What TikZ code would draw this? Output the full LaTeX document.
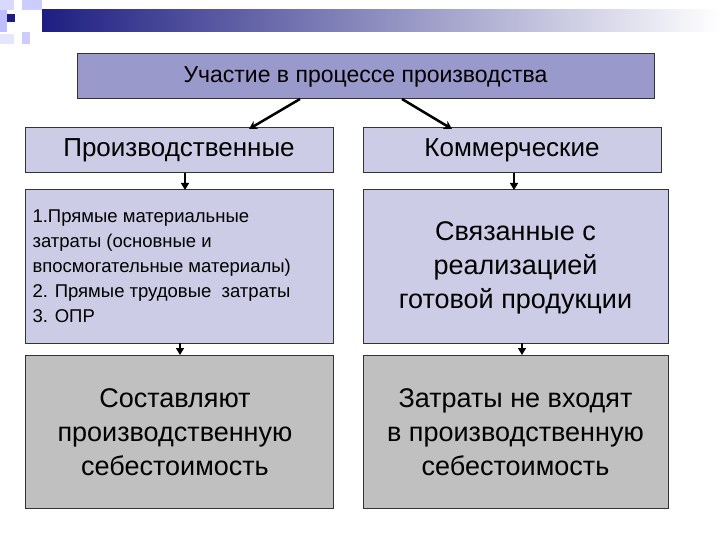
\documentclass[tikz,border=0pt]{standalone}
\usepackage{fontspec}
\usetikzlibrary{arrows.meta}
\setmainfont{Liberation Sans}
\begin{document}
\begin{tikzpicture}[x=1pt,y=-1pt,
  bx/.style={draw=black!80,line width=1pt},
  arr/.style={line width=2.5pt,-{Stealth[length=8pt,width=9pt]}},
  tri/.style={line width=1.5pt,-{Triangle[length=7pt,width=8pt]}}]
\useasboundingbox (0,0) rectangle (720,540);
\definecolor{topc}{RGB}{153,153,204}
\definecolor{midc}{RGB}{204,204,230}
\definecolor{grc}{RGB}{192,192,192}
\definecolor{dkb}{RGB}{30,30,130}
% decoration
\shade[left color=dkb,right color=white] (42,10) rectangle (720,32);
\fill[blue!15] (0,0) rectangle (14,10);
\fill[blue!20] (22,0) rectangle (42,10);
\fill[blue!25] (0,10) rectangle (7,32);
\fill[dkb] (7,14) rectangle (15,22);
\fill[blue!20] (22,32) rectangle (30,44);
\fill[blue!10] (0,34) rectangle (14,44);
% boxes
\path[bx,fill=topc] (77,54) rectangle (654,99);
\node[font=\fontsize{23}{26}\selectfont] (top) at (365.5,76.5) {Участие в процессе производства};
\path[bx,fill=midc] (25,128) rectangle (333,173);
\node[font=\fontsize{26}{30}\selectfont] (p) at (179,150.5) {Производственные};
\path[bx,fill=midc] (363,128) rectangle (661,173);
\node[font=\fontsize{26}{30}\selectfont] (k) at (512,150.5) {Коммерческие};
\path[bx,fill=midc] (25,190) rectangle (333,343);
\node[align=left,anchor=west,font=\fontsize{18.5}{25}\selectfont] (p3) at (29,266) {1.Прямые материальные\\затраты (основные и\\впосмогательные материалы)\\2. Прямые трудовые\ \ затраты\\3. ОПР};
\path[bx,fill=midc] (363,190) rectangle (668,343);
\node[align=center,font=\fontsize{27}{34}\selectfont] (k3) at (515.5,268) {Связанные с\\реализацией\\готовой продукции};
\path[bx,fill=grc] (25,355) rectangle (333,508);
\node[align=center,font=\fontsize{27}{34}\selectfont] (p4) at (175,432) {Составляют\\производственную\\себестоимость};
\path[bx,fill=grc] (363,355) rectangle (668,508);
\node[align=center,font=\fontsize{27}{34}\selectfont] (k4) at (515.5,432) {Затраты не входят\\в производственную\\себестоимость};
% arrows
\coordinate (a1) at (300,99); \coordinate (b1) at (249,129);
\coordinate (a2) at (402,99); \coordinate (b2) at (452,129);
\draw[arr] (a1) -- (b1);
\draw[arr] (a2) -- (b2);
\coordinate (c1) at (185,173); \coordinate (d1) at (185,190);
\coordinate (c2) at (514,173); \coordinate (d2) at (514,190);
\draw[tri] (c1) -- (d1);
\draw[tri] (c2) -- (d2);
\coordinate (e1) at (180,343); \coordinate (f1) at (180,355);
\coordinate (e2) at (522,343); \coordinate (f2) at (522,355);
\draw[tri] (e1) -- (f1);
\draw[tri] (e2) -- (f2);
\end{tikzpicture}
\end{document}
